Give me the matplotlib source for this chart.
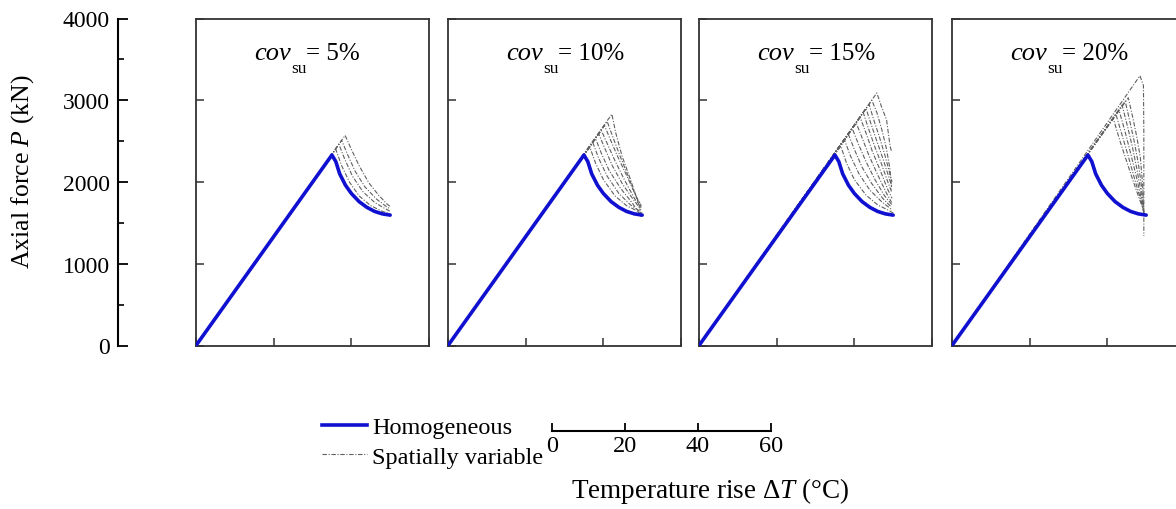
import matplotlib
matplotlib.use("Agg")
import matplotlib.pyplot as plt
from matplotlib.lines import Line2D
from matplotlib.ticker import MultipleLocator

plt.rcParams['font.family'] = ['Liberation Serif', 'DejaVu Serif']
plt.rcParams['mathtext.fontset'] = 'custom'
plt.rcParams['mathtext.rm'] = 'Liberation Serif'
plt.rcParams['mathtext.it'] = 'Liberation Serif:italic'

# homogeneous soil response (same in every panel)
homo_x = [0, 35, 36, 37, 38.5, 40, 42, 44, 46, 48, 50]
homo_y = [0, 2330, 2250, 2100, 1960, 1860, 1760, 1690, 1640, 1610, 1595]

cov_labels = ['5%', '10%', '15%', '20%']

# spatially variable realisations, one list of curves per panel: (x, y) points
sv_cov5 = [
    [(0, 0), (36.0, 2400), (37.5, 2200), (39.5, 2000), (42, 1830), (45, 1710), (48, 1640), (50, 1610)],
    [(0, 0), (36.8, 2460), (38.3, 2280), (40.3, 2070), (43, 1880), (46, 1750), (48.5, 1680), (50, 1640)],
    [(0, 0), (37.5, 2510), (39, 2340), (41, 2130), (43.5, 1940), (46.5, 1790), (49, 1700), (50, 1670)],
    [(0, 0), (38.4, 2570), (40, 2400), (42, 2200), (44.5, 1990), (47, 1840), (49.2, 1730), (50, 1700)],
]
sv_cov10 = [
    [(0, 0), (36.5, 2430), (38, 2230), (40, 2030), (43, 1830), (46, 1710), (49, 1640), (50, 1620)],
    [(0, 0), (37.3, 2480), (38.8, 2290), (41, 2070), (44, 1860), (47, 1720), (49.5, 1640)],
    [(0, 0), (38.0, 2530), (39.5, 2350), (41.5, 2140), (44.5, 1920), (47.5, 1740), (49.5, 1600), (49.8, 1560)],
    [(0, 0), (38.8, 2590), (40.3, 2420), (42.3, 2200), (45, 1970), (47.5, 1800), (49.7, 1660)],
    [(0, 0), (39.5, 2630), (41, 2470), (43, 2260), (45.5, 2020), (48, 1800), (49.8, 1680)],
    [(0, 0), (40.3, 2690), (41.8, 2520), (43.8, 2300), (46, 2080), (48.3, 1840), (49.8, 1700)],
    [(0, 0), (41.0, 2740), (42.3, 2570), (44.2, 2330), (46.5, 2060), (48.5, 1810), (49.7, 1720)],
    [(0, 0), (42.2, 2830), (43.2, 2600), (44.8, 2320), (47, 2030), (48.7, 1790), (49.5, 1650)],
]
sv_cov15 = [
    [(0, 0), (36.5, 2440), (38, 2230), (40, 2030), (43, 1840), (46, 1720), (49, 1650), (50, 1620)],
    [(0, 0), (37.5, 2510), (39, 2320), (41.2, 2100), (44, 1900), (47, 1760), (49.7, 1660)],
    [(0, 0), (38.5, 2580), (40, 2400), (42, 2180), (44.5, 1980), (47.3, 1800), (49.6, 1690)],
    [(0, 0), (39.5, 2650), (41, 2470), (43, 2250), (45.3, 2030), (47.8, 1830), (49.7, 1720)],
    [(0, 0), (40.5, 2720), (42, 2540), (43.8, 2320), (46, 2090), (48.2, 1870), (49.6, 1750)],
    [(0, 0), (41.5, 2790), (43, 2600), (44.6, 2380), (46.6, 2150), (48.5, 1920), (49.7, 1800)],
    [(0, 0), (42.3, 2850), (43.6, 2660), (45.2, 2440), (47, 2220), (48.7, 1990), (49.6, 1880)],
    [(0, 0), (43.0, 2900), (44.3, 2710), (45.8, 2500), (47.4, 2280), (48.9, 2060), (49.6, 1950)],
    [(0, 0), (43.8, 2950), (45, 2760), (46.4, 2560), (47.8, 2340), (49.1, 2110), (49.7, 2000)],
    [(0, 0), (44.5, 3000), (45.8, 2850), (47.2, 2620), (48.3, 2400), (49.2, 2150), (49.6, 1910)],
    [(0, 0), (45.8, 3090), (47, 2920), (48.3, 2760), (49.2, 2440), (49.6, 2370)],
]
sv_cov20 = [
    [(0, 0), (48.4, 3300), (49.3, 3180), (49.4, 2600), (49.4, 1900), (49.4, 1340)],
    [(0, 0), (45.4, 3030), (46.5, 2800), (47.6, 2550), (48.5, 2300), (49.1, 1960), (49.4, 1650)],
    [(0, 0), (44.6, 2990), (45.8, 2740), (47, 2480), (48, 2220), (48.8, 1950), (49.4, 1620)],
    [(0, 0), (43.8, 2940), (45.2, 2680), (46.5, 2420), (47.6, 2160), (48.6, 1900), (49.4, 1620)],
    [(0, 0), (43.0, 2880), (44.6, 2610), (46, 2350), (47.3, 2100), (48.4, 1870), (49.3, 1640)],
    [(0, 0), (42.2, 2830), (44, 2540), (45.6, 2280), (47, 2040), (48.3, 1830), (49.3, 1650)],
    [(0, 0), (41.5, 2780), (43.4, 2480), (45.2, 2220), (46.8, 1990), (48.2, 1800), (49.3, 1660)],
]
sv_all = [sv_cov5, sv_cov10, sv_cov15, sv_cov20]

W, H = 1176, 510
fig = plt.figure(figsize=(W / 100, H / 100), dpi=100)

gray_ls = (0, (4, 1.5, 1, 1.5))
gray = '#606060'
blue = '#1010d0'
bot = 1 - 346.5 / H
hgt = 327 / H

# shared y axis on the left
ay = fig.add_axes([118 / W, bot, 0.001, hgt])
ay.set_ylim(0, 4000)
for s in ['top', 'right', 'bottom']:
    ay.spines[s].set_visible(False)
ay.spines['left'].set_linewidth(1.5)
ay.set_xticks([])
ay.yaxis.set_major_locator(MultipleLocator(1000))
ay.yaxis.set_minor_locator(MultipleLocator(500))
ay.tick_params(axis='y', which='major', direction='in', length=7, width=1.3, labelsize=17, pad=6)
ay.tick_params(axis='y', which='minor', direction='in', length=4.5, width=1.2)
ay.patch.set_visible(False)
fig.text(23 / W, 1 - 172 / H, 'Axial force $\\mathit{P}$ (kN)', rotation=90,
         ha='center', va='center', fontsize=18.5)

lefts = [196, 448, 699, 952]
for i, left in enumerate(lefts):
    ax = fig.add_axes([left / W, bot, 233 / W, hgt])
    for pts in sv_all[i]:
        ax.plot([p[0] for p in pts], [p[1] for p in pts], color=gray,
                ls=gray_ls, lw=0.8, zorder=2)
    ax.plot(homo_x, homo_y, color=blue, lw=2.6, zorder=3, solid_capstyle='round')
    ax.set_xlim(0, 60)
    ax.set_ylim(0, 4000)
    ax.set_xticks([0, 20, 40, 60])
    ax.set_yticks([0, 1000, 2000, 3000, 4000])
    ax.tick_params(direction='in', length=6, width=1.1, color='#333333',
                   labelbottom=False, labelleft=False)
    for s in ax.spines.values():
        s.set_linewidth(1.3)
        s.set_color('#333333')
    # title: cov, lowered subscript su, then "= x%"
    t1 = ax.text(0.25, 0.877, 'cov', transform=ax.transAxes, style='italic',
                 ha='left', va='baseline', fontsize=19)
    t2 = ax.annotate('su', xy=(1, 0), xycoords=t1, xytext=(0, -6),
                     textcoords='offset points', ha='left', va='baseline', fontsize=12.5)
    ax.annotate('= ' + cov_labels[i], xy=(1, 0), xycoords=(t2, t1), xytext=(0, 0),
                textcoords='offset points', ha='left', va='bottom', fontsize=18)

# separate temperature axis
axx = fig.add_axes([552 / W, 1 - 432 / H, 219 / W, 0.001])
axx.set_xlim(0, 60)
for s in ['top', 'right', 'left']:
    axx.spines[s].set_visible(False)
axx.spines['bottom'].set_linewidth(1.5)
axx.set_yticks([])
axx.set_xticks([0, 20, 40, 60])
axx.tick_params(axis='x', direction='in', length=6, width=1.3, labelsize=17.5, pad=3)
axx.patch.set_visible(False)
fig.text(710 / W, 1 - 491 / H, 'Temperature rise $\\Delta\\mathit{T}$ (°C)',
         ha='center', va='center', fontsize=19.5)

handles = [Line2D([], [], color=blue, lw=2.6),
           Line2D([], [], color=gray, ls=gray_ls, lw=0.8)]
fig.legend(handles, ['Homogeneous', 'Spatially variable'], loc='center left',
           bbox_to_anchor=(322 / W, 1 - 443 / H), frameon=False, fontsize=17.5,
           handlelength=1.85, handletextpad=0.2, borderpad=0, borderaxespad=0,
           labelspacing=0.3)

fig.savefig('out.png', dpi=100)
